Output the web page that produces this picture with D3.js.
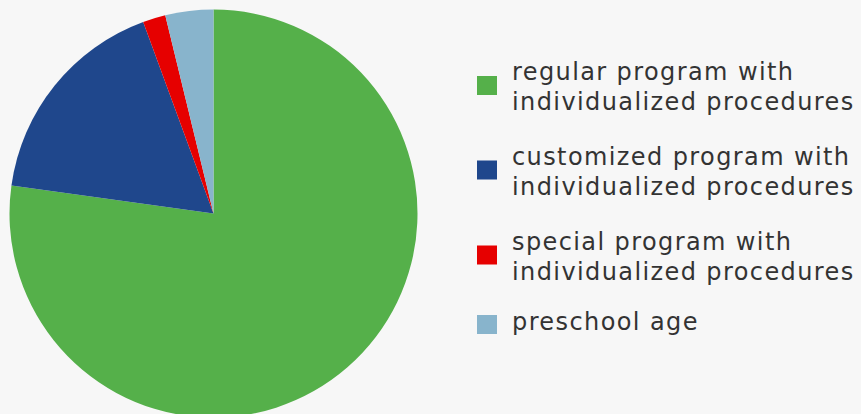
<!DOCTYPE html>
<html>
<head>
<meta charset="utf-8">
<script src="https://cdn.jsdelivr.net/npm/d3@7/dist/d3.min.js"></script>
<style>
  html, body { margin: 0; padding: 0; background: #f7f7f7; }
  svg { display: block; }
  .legend text { font-family: "DejaVu Sans", sans-serif; fill: #333333; letter-spacing: 1.4px; }
</style>
</head>
<body>
<div id="chart"></div>
<script>
// Share of pupils by type of educational program (percent)
const categories = [
  "regular program with|individualized procedures",
  "customized program with|individualized procedures",
  "special program with|individualized procedures",
  "preschool age"
];
const values = [77.2, 17.2, 1.8, 3.8];
const colors = ["#55b04a", "#1f478c", "#e60000", "#88b4cc"];

const width = 861, height = 414;
const svg = d3.select("#chart").append("svg")
  .attr("width", width).attr("height", height);

svg.append("rect").attr("width", width).attr("height", height).attr("fill", "#f7f7f7");

const cx = 213.5, cy = 213.5, radius = 204;
const data = categories.map((c, i) => ({ label: c, value: values[i], color: colors[i] }));

const pie = d3.pie().value(d => d.value).sort(null);
const arc = d3.arc().innerRadius(0).outerRadius(radius);

svg.append("g").attr("transform", `translate(${cx},${cy})`)
  .selectAll("path").data(pie(data)).join("path")
  .attr("d", arc)
  .attr("fill", d => d.data.color);

// Legend: one swatch per category, labels wrapped onto two lines
const legendY = [85.5, 170, 255, 324.5];
const legend = svg.append("g").attr("class", "legend");
data.forEach((d, i) => {
  const g = legend.append("g").attr("transform", `translate(477,${legendY[i]})`);
  g.append("rect").attr("x", 0).attr("y", -9.5).attr("width", 20).attr("height", 19).attr("fill", d.color);
  const lines = d.label.split("|");
  lines.forEach((ln, j) => {
    const y = lines.length === 1 ? 5.5 : (j === 0 ? -5.5 : 24.5);
    g.append("text").attr("x", 35).attr("y", y).attr("font-size", 24).text(ln);
  });
});
</script>
</body>
</html>
